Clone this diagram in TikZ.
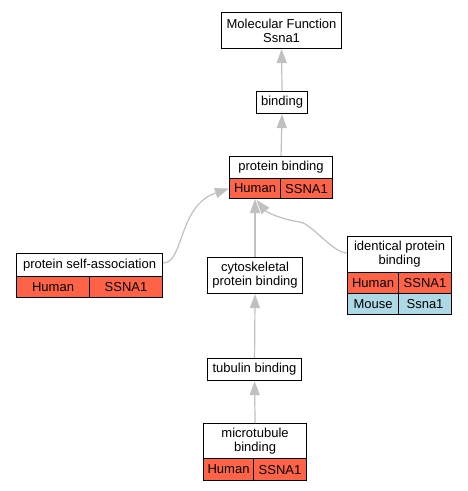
\documentclass[tikz,border=0pt]{standalone}
\usepackage{fontspec}
\setmainfont{Liberation Sans}
\usetikzlibrary{arrows.meta,calc}
\definecolor{hred}{HTML}{FF6347}
\definecolor{mblue}{HTML}{ADD8E6}
\definecolor{edgegray}{HTML}{C0C0C0}
\tikzset{
  box/.style={draw=black, line width=1.1pt, inner sep=0pt, anchor=north west,
    font=\fontsize{13}{14}\selectfont, align=center, fill=white},
  hcell/.style={box, fill=hred},
  mcell/.style={box, fill=mblue},
  edge/.style={draw=edgegray, line width=1.2pt, -{Triangle[length=14pt,width=10pt]}},
}
\begin{document}
\begin{tikzpicture}[x=1pt,y=-1pt]
\useasboundingbox (0,0) rectangle (467,491);
% nodes
\node[box, minimum width=120pt, minimum height=36pt] (mf) at (221,12) {Molecular Function\\Ssna1};
\node[box, minimum width=51pt, minimum height=22pt] (bind) at (256,91) {binding};
\node[box, minimum width=103pt, minimum height=22pt] (pb) at (229,156) {protein binding};
\node[hcell, minimum width=51pt, minimum height=20pt] (pbh) at (229,178) {Human};
\node[hcell, minimum width=52pt, minimum height=20pt] (pbs) at (280,178) {SSNA1};
\node[box, minimum width=146pt, minimum height=23pt] (psa) at (16,253) {protein self-association};
\node[hcell, minimum width=73pt, minimum height=21pt] (psah) at (16,276) {Human};
\node[hcell, minimum width=73pt, minimum height=21pt] (psas) at (89,276) {SSNA1};
\node[box, minimum width=95pt, minimum height=36pt] (cyto) at (207,257) {cytoskeletal\\protein binding};
\node[box, minimum width=104pt, minimum height=36pt] (ipb) at (347,236) {identical protein\\binding};
\node[hcell, minimum width=51pt, minimum height=21pt] (ipbh) at (347,272) {Human};
\node[hcell, minimum width=53pt, minimum height=21pt] (ipbs) at (398,272) {SSNA1};
\node[mcell, minimum width=51pt, minimum height=21pt] (ipbm) at (347,293) {Mouse};
\node[mcell, minimum width=53pt, minimum height=21pt] (ipbms) at (398,293) {Ssna1};
\node[box, minimum width=94pt, minimum height=22pt] (tub) at (207,358) {tubulin binding};
\node[box, minimum width=103pt, minimum height=35pt] (mt) at (203,423) {microtubule\\binding};
\node[hcell, minimum width=50pt, minimum height=22pt] (mth) at (203,458) {Human};
\node[hcell, minimum width=53pt, minimum height=22pt] (mts) at (253,458) {SSNA1};
% edges
\draw[edge] (bind.north) -- (mf.south);
\draw[edge] (pb.north) -- (bind.south);
\draw[edge] (cyto.north) -- (pbh.south);
\draw[edge] (tub.north) -- (cyto.south);
\draw[edge] (mt.north) -- (tub.south);
\coordinate (psaout) at ($(psa.north east)+(0,10)$);
\draw[edge] (psaout) .. controls +(21,0) and +(-51,17) .. (pbh.west);
\coordinate (ipbout) at ($(ipb.north west)+(0,17)$);
\coordinate (ipbmid) at (300,222);
\draw[edge] (ipbout) .. controls +(-14,0) and +(12,2) .. (ipbmid) .. controls +(-20,-3) and +(10,12) .. ($(pbh.south)+(1.5,1)$);
\end{tikzpicture}
\end{document}
